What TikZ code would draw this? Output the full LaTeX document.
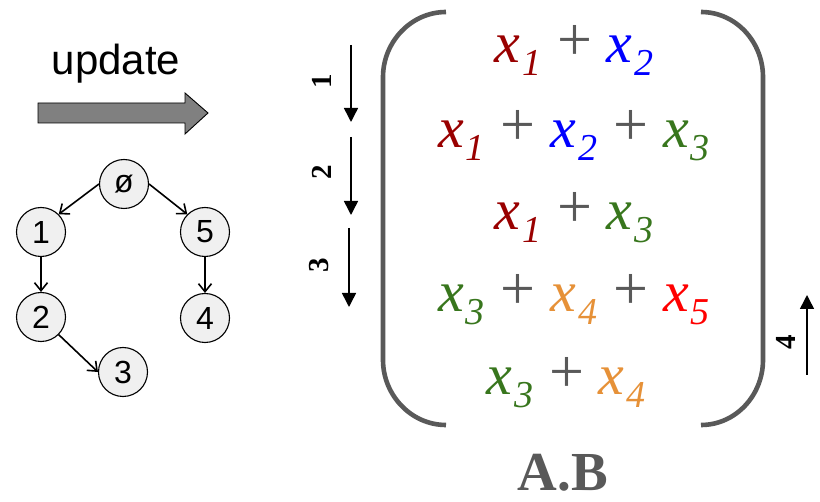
\documentclass[tikz,border=0pt]{standalone}
\usepackage{fontspec}
\setmainfont{Liberation Serif}
\setsansfont{Liberation Sans}
\newfontfamily\timesf{Liberation Serif}
\newfontfamily\arialf{Liberation Sans}
\usetikzlibrary{arrows.meta}
\definecolor{cxone}{RGB}{153,0,0}
\definecolor{cxtwo}{RGB}{0,0,255}
\definecolor{cxthree}{RGB}{56,118,29}
\definecolor{cxfour}{RGB}{230,145,56}
\definecolor{cxfive}{RGB}{255,0,0}
\definecolor{pgray}{RGB}{89,89,89}
\definecolor{arrgray}{RGB}{128,128,128}
\definecolor{nodefill}{RGB}{240,240,240}
\newcommand{\xsub}[2]{{\color{#1}\timesf\itshape x\kern1.5pt\raisebox{-13pt}{\fontsize{38}{40}\selectfont #2}}}
\newcommand{\pls}{\hspace{16pt}{\color{pgray}\timesf\upshape\raisebox{2pt}{\fontsize{62}{64}\selectfont +}}\hspace{15pt}}
\tikzset{
  treenode/.style={circle,draw=black,line width=1.1pt,fill=nodefill,minimum size=49pt,inner sep=0pt,font=\arialf\fontsize{32}{34}\selectfont},
  treeedge/.style={line width=1.6pt,-{Straight Barb[length=8pt,width=13pt]}},
  rowtext/.style={inner sep=0pt,anchor=base,font=\timesf\fontsize{58}{60}\selectfont},
  steparrow/.style={line width=1.5pt,-{Triangle[length=14pt,width=14pt]}},
  steplabel/.style={inner sep=0pt,rotate=90,font=\timesf\bfseries\fontsize{29}{31}\selectfont},
  paren/.style={line width=4.6pt,draw=pgray}
}
\begin{document}
\begin{tikzpicture}[x=1pt,y=-1pt]
\useasboundingbox (0,0) rectangle (820,502);
% update label and block arrow
\node[inner sep=0pt,anchor=base,font=\arialf\fontsize{42}{44}\selectfont] (upd) at (116,75) {update};
\draw[fill=arrgray,draw=black,line width=0.9pt] (38,103) -- (185,103) -- (185,93) -- (208,113) -- (185,134) -- (185,123) -- (38,123) -- cycle;
% tree
\node[treenode] (n0) at (124,184) {ø};
\node[treenode] (n1) at (41,232) {1};
\node[treenode] (n5) at (205,232) {5};
\node[treenode] (n2) at (41,317) {2};
\node[treenode] (n4) at (205,318) {4};
\node[treenode] (n3) at (123,372) {3};
\draw[treeedge] (n0.west) -- (n1.north east);
\draw[treeedge] (n0.east) -- (n5.north west);
\draw[treeedge] (n1.south) -- (n2.north);
\draw[treeedge] (n5.south) -- (n4.north);
\draw[treeedge] (n2.south east) -- (n3.west);
% step arrows
\coordinate (a1s) at (351,45); \coordinate (a1e) at (351,122);
\coordinate (a2s) at (351,137); \coordinate (a2e) at (351,215);
\coordinate (a3s) at (349,228); \coordinate (a3e) at (349,307);
\coordinate (a4s) at (807,375); \coordinate (a4e) at (807,295);
\draw[steparrow] (a1s) -- (a1e);
\draw[steparrow] (a2s) -- (a2e);
\draw[steparrow] (a3s) -- (a3e);
\draw[steparrow] (a4s) -- (a4e);
\node[steplabel] (l1) at (322,81) {1};
\node[steplabel] (l2) at (322,172) {2};
\node[steplabel] (l3) at (319,265) {3};
\node[steplabel] (l4) at (786,342) {4};
% parentheses
\draw[paren] (446,12) .. controls (411,12) and (383,42) .. (383,77) -- (383,360) .. controls (383,395) and (411,425) .. (446,425);
\draw[paren] (701,12) .. controls (736,12) and (763,42) .. (763,77) -- (763,360) .. controls (763,395) and (736,425) .. (701,425);
% rows
\node[rowtext] (r1) at (574,63) {\xsub{cxone}{1}\pls\xsub{cxtwo}{2}};
\node[rowtext] (r2) at (574,148) {\xsub{cxone}{1}\pls\xsub{cxtwo}{2}\pls\xsub{cxthree}{3}};
\node[rowtext] (r3) at (574,230) {\xsub{cxone}{1}\pls\xsub{cxthree}{3}};
\node[rowtext] (r4) at (574,312) {\xsub{cxthree}{3}\pls\xsub{cxfour}{4}\pls\xsub{cxfive}{5}};
\node[rowtext] (r5) at (566,395) {\xsub{cxthree}{3}\pls\xsub{cxfour}{4}};
% caption
\node[inner sep=0pt,anchor=base,text=pgray,font=\timesf\bfseries\fontsize{55}{57}\selectfont] (cap) at (563,491) {A.B};
\end{tikzpicture}
\end{document}
